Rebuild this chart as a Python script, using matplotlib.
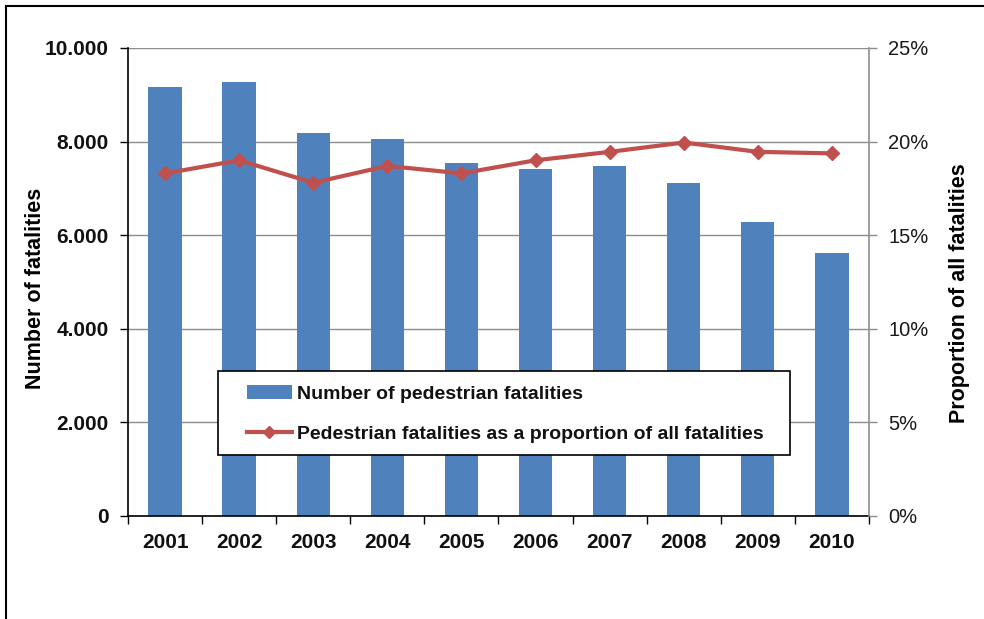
import numpy as np
import matplotlib.pyplot as plt
from matplotlib.lines import Line2D
from matplotlib.patches import Rectangle
from matplotlib.ticker import FuncFormatter

plt.rcParams['font.family'] = ['Liberation Sans', 'DejaVu Sans']

years = ['2001', '2002', '2003', '2004', '2005', '2006', '2007', '2008', '2009', '2010']
fatalities = [9170, 9270, 8180, 8060, 7550, 7410, 7485, 7110, 6275, 5620]
share_pct = [18.3, 19.0, 17.8, 18.7, 18.3, 19.0, 19.45, 19.95, 19.45, 19.37]

bar_color = '#4F81BD'
line_color = '#C0504D'

fig = plt.figure(figsize=(9.84, 6.19), dpi=100)
ax = fig.add_axes([0.1301, 0.1664, 0.753, 0.7561])

x = np.arange(len(years))
bars = ax.bar(x, fatalities, width=0.45, color=bar_color, zorder=2,
              label='Number of pedestrian fatalities')
ax.set_xlim(-0.5, len(years) - 0.5)
ax.set_ylim(0, 10000)
ax.set_yticks(np.arange(0, 10001, 2000))
ax.yaxis.set_major_formatter(FuncFormatter(lambda v, p: f'{int(v):,}'.replace(',', '.')))
ax.grid(axis='y', color='#8c8c8c', linewidth=1.0, zorder=0)
ax.set_xticks(x)
ax.set_xticklabels(years, fontsize=15, fontweight='bold', color='#111111')
ax.set_xticks(np.arange(-0.5, len(years)), minor=True)
ax.tick_params(axis='x', which='major', length=0, pad=12)
ax.tick_params(axis='x', which='minor', length=6, width=1, color='black')
ax.tick_params(axis='y', length=6, width=1, labelsize=15, pad=8, labelcolor='#111111')
for lab in ax.get_yticklabels():
    lab.set_fontweight('bold')
ax.set_ylabel('Number of fatalities', fontsize=15.5, fontweight='bold')
ax.yaxis.set_label_coords(-0.1107, 0.487)
for s in ['top', 'right']:
    ax.spines[s].set_visible(False)
ax.spines['left'].set_linewidth(1.2)
ax.spines['bottom'].set_linewidth(1.2)

ax2 = ax.twinx()
ax2.plot(x, share_pct, color=line_color, linewidth=3, marker='D', markersize=7,
         zorder=3, label='Pedestrian fatalities as a proportion of all fatalities')
ax2.set_ylim(0, 25)
ax2.set_yticks(np.arange(0, 26, 5))
ax2.yaxis.set_major_formatter(FuncFormatter(lambda v, p: f'{int(v)}%'))
ax2.tick_params(axis='y', length=6, width=1, color='#8c8c8c', labelsize=14.5,
                labelcolor='#1a1a1a', pad=8)
for s in ['top', 'left', 'bottom']:
    ax2.spines[s].set_visible(False)
ax2.spines['right'].set_color('#8c8c8c')
ax2.spines['right'].set_linewidth(1.2)
ax2.set_ylabel('Proportion of all fatalities', fontsize=15.5, fontweight='bold')
ax2.yaxis.set_label_coords(1.108, 0.476)

# legend box with a wide left/right margin
ax2.add_patch(Rectangle((0.1215, 0.1303), 0.7719, 0.1795, transform=ax2.transAxes,
                        facecolor='white', edgecolor='black', linewidth=1.2,
                        zorder=4, clip_on=False))
handles = [bars, Line2D([], [], color=line_color, linewidth=3, marker='D', markersize=6)]
labels = ['Number of pedestrian fatalities',
          'Pedestrian fatalities as a proportion of all fatalities']
leg = ax2.legend(handles, labels, loc='upper left', bbox_to_anchor=(0.1606, 0.2799),
                 frameon=False, fontsize=14, handlelength=2.3, handletextpad=0.25,
                 borderpad=0, borderaxespad=0, labelspacing=1.16)
leg.set_zorder(5)
for t in leg.get_texts():
    t.set_fontweight('bold')
    t.set_color('#111111')

# outer frame lines on left and top
fig.add_artist(Line2D([0.0066, 0.0066], [0, 0.9903], color='black', linewidth=1.5,
                      transform=fig.transFigure))
fig.add_artist(Line2D([0.0066, 1], [0.9903, 0.9903], color='black', linewidth=1.5,
                      transform=fig.transFigure))

fig.savefig('out.png', dpi=100)
